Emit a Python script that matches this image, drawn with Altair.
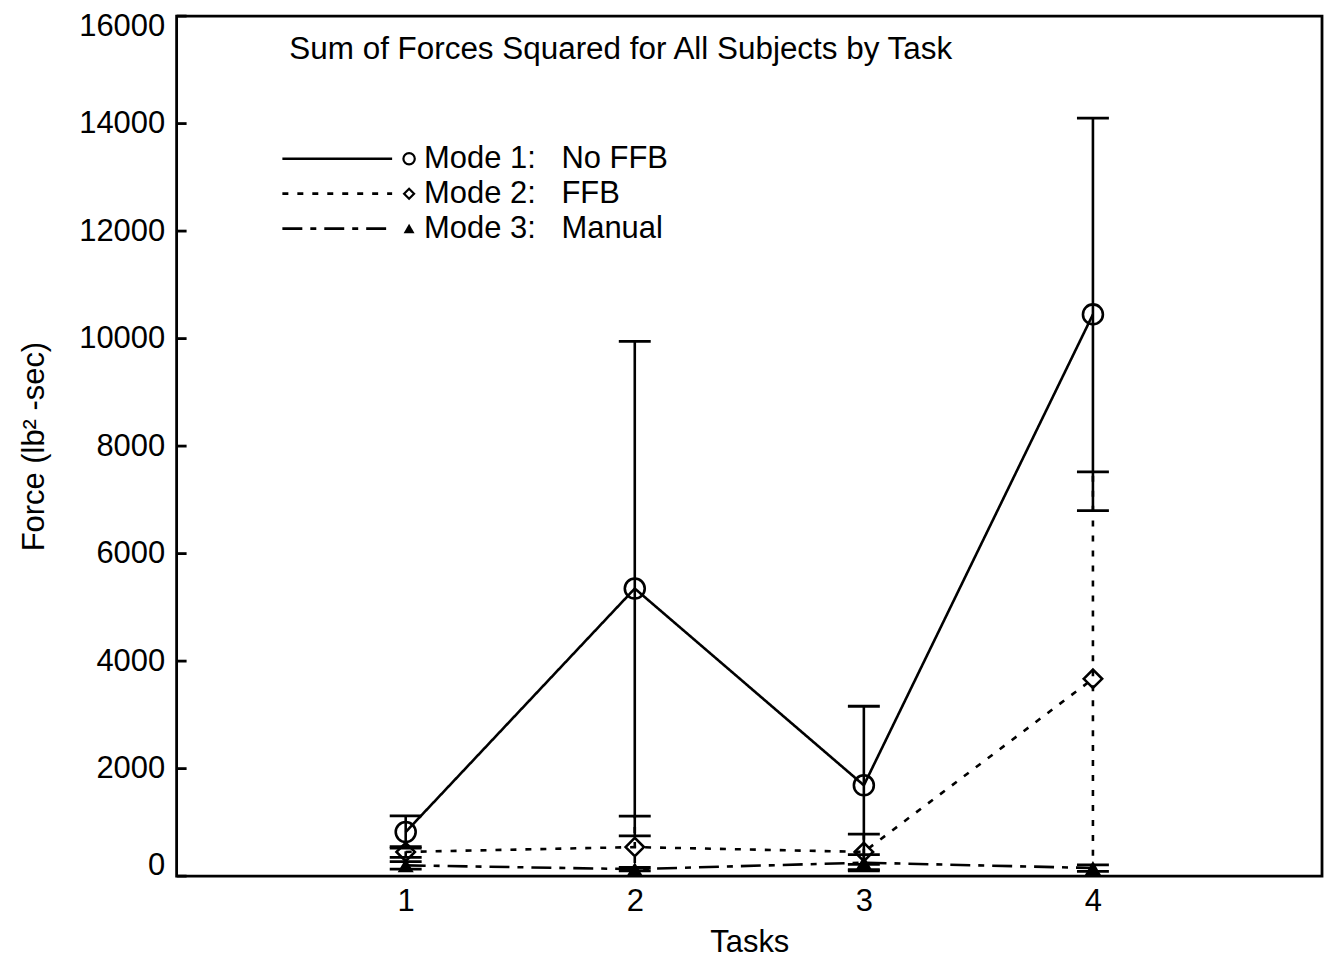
import altair as alt
import pandas as pd

tasks = [1, 2, 3, 4]
modes = ["Mode 1", "Mode 2", "Mode 3"]
mode1_mean = [820, 5350, 1690, 10450]
mode1_err = [300, 4600, 1470, 3650]
mode2_mean = [450, 540, 450, 3670]
mode2_err = [100, 575, 330, 3850]
mode3_mean = [200, 130, 250, 150]
mode3_err = [70, 30, 150, 60]
legend_labels = ["Mode 1:\u00a0\u00a0\u00a0No FFB", "Mode 2:\u00a0\u00a0\u00a0FFB", "Mode 3:\u00a0\u00a0\u00a0Manual"]
y_ticks = [0, 2000, 4000, 6000, 8000, 10000, 12000, 14000, 16000]
x_ticks = [1, 2, 3, 4]
chart_title = "Sum of Forces Squared for All Subjects by Task"

rows = []
for m, means, errs in zip(modes, [mode1_mean, mode2_mean, mode3_mean], [mode1_err, mode2_err, mode3_err]):
    for t, v, e in zip(tasks, means, errs):
        rows.append({"task": t, "mode": m, "value": v, "lo": v - e, "hi": v + e})
df = pd.DataFrame(rows)

FONT = "Liberation Sans"
FS = 31
W, H = 1148, 862
SW = 2.6
dash_range = [[1, 0], [6, 9], [20, 8, 6, 8]]
shape_range = ["circle", "diamond", "triangle-up"]

xs = alt.Scale(domain=[0, 5], nice=False)
ys = alt.Scale(domain=[0, 16000], nice=False)
dash = alt.StrokeDash("mode:N", scale=alt.Scale(domain=modes, range=dash_range), legend=None)

base = alt.Chart(df)

lines = base.mark_line(color="black", strokeWidth=SW).encode(
    x=alt.X("task:Q", scale=xs, axis=alt.Axis(values=x_ticks, title="Tasks", grid=False, domain=False,
                                               ticks=False, labelFontSize=FS, titleFontSize=FS,
                                               labelFont=FONT, titleFont=FONT, labelColor="black",
                                               titleColor="black", labelPadding=10, titlePadding=12,
                                               titleFontWeight="normal", format="d")),
    y=alt.Y("value:Q", scale=ys, axis=alt.Axis(values=y_ticks, title="Force (lb² -sec)", grid=False,
                                                domain=False, ticks=False, labelFontSize=FS,
                                                titleFontSize=FS, labelFont=FONT, titleFont=FONT,
                                                labelColor="black", titleColor="black", labelPadding=12,
                                                titlePadding=28, titleFontWeight="normal", format="d",
                                                labelFlush=True, labelFlushOffset=5)),
    strokeDash=dash,
    detail="mode:N",
)

err_rules = base.mark_rule(color="black", strokeWidth=SW, clip=True).encode(
    x=alt.X("task:Q", scale=xs), y=alt.Y("lo:Q", scale=ys), y2="hi:Q", strokeDash=dash
)
caps_hi = base.mark_tick(color="black", orient="horizontal", size=32, thickness=2.8, clip=True, opacity=1).encode(
    x=alt.X("task:Q", scale=xs), y=alt.Y("hi:Q", scale=ys)
)
caps_lo = base.mark_tick(color="black", orient="horizontal", size=32, thickness=2.8, clip=True, opacity=1).encode(
    x=alt.X("task:Q", scale=xs), y=alt.Y("lo:Q", scale=ys)
)

open_pts = base.transform_filter(alt.datum.mode != "Mode 3").mark_point(
    filled=False, color="black", strokeWidth=SW, opacity=1
).encode(
    x=alt.X("task:Q", scale=xs), y=alt.Y("value:Q", scale=ys),
    shape=alt.Shape("mode:N", scale=alt.Scale(domain=modes, range=shape_range), legend=None),
    size=alt.Size("mode:N", scale=alt.Scale(domain=modes, range=[400, 280, 280]), legend=None),
)
tri_pts = base.transform_filter(alt.datum.mode == "Mode 3").mark_point(
    filled=True, color="black", shape="triangle-up", size=260, opacity=1
).encode(x=alt.X("task:Q", scale=xs), y=alt.Y("value:Q", scale=ys))

ytick_df = pd.DataFrame({"v": y_ticks})
ytick_marks = alt.Chart(ytick_df).mark_tick(color="black", orient="horizontal", size=10, thickness=2.8, opacity=1).encode(
    y=alt.Y("v:Q", scale=ys), x=alt.value(5)
)

one = alt.Data(values=[{"a": 1}])
title_mark = alt.Chart(one).mark_text(
    text=chart_title, font=FONT, fontSize=FS + 0.5, color="black", align="left", baseline="middle"
).encode(x=alt.value(113), y=alt.value(34))

legend_layers = []
leg_y = [143, 178, 213]
for i in range(3):
    ly = leg_y[i]
    legend_layers.append(
        alt.Chart(one).mark_rule(color="black", strokeWidth=SW, strokeDash=dash_range[i]).encode(
            x=alt.value(106), x2=alt.value(216), y=alt.value(ly)
        )
    )
    legend_layers.append(
        alt.Chart(one).mark_point(
            shape=shape_range[i], color="black", filled=(i == 2), strokeWidth=2.2, opacity=1,
            size=[130, 100, 120][i]
        ).encode(x=alt.value(233), y=alt.value(ly))
    )
    legend_layers.append(
        alt.Chart(one).mark_text(
            text=legend_labels[i], font=FONT, fontSize=FS, color="black", align="left", baseline="middle"
        ).encode(x=alt.value(248), y=alt.value(ly))
    )

chart = alt.layer(
    lines, err_rules, caps_hi, caps_lo, open_pts, tri_pts, ytick_marks, title_mark, *legend_layers
).properties(
    width=W, height=H,
    background="white",
    autosize=alt.AutoSizeParams(type="none"),
    padding={"left": 169, "top": 7, "right": 5, "bottom": 88},
).configure_view(
    stroke="black", strokeWidth=2.8, strokeOpacity=1
)

chart.save("out.html", embed_options={"renderer": "svg", "actions": False})
